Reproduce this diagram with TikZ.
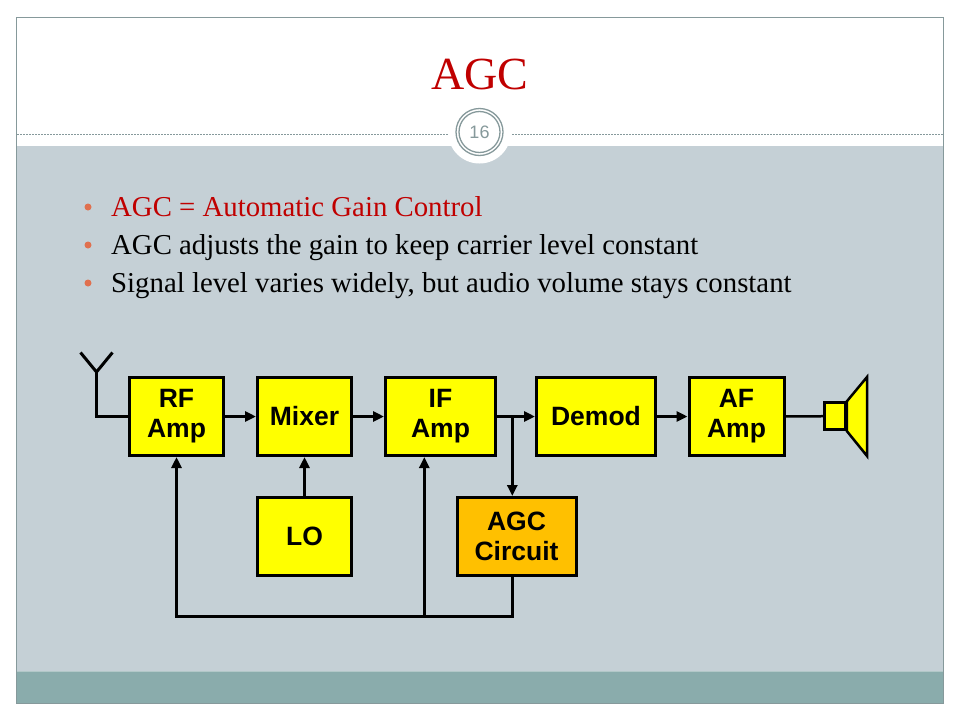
\documentclass[tikz,border=0pt]{standalone}
\usepackage{fontspec}
\setmainfont{Liberation Serif}
\setsansfont{Liberation Sans}
\usetikzlibrary{arrows.meta}

\definecolor{slideGray}{HTML}{C5D0D6}
\definecolor{bandTeal}{HTML}{8AACAC}
\definecolor{bandLine}{HTML}{B2C8C8}
\definecolor{frameGray}{HTML}{86999B}
\definecolor{titleRed}{HTML}{C00000}
\definecolor{dotRed}{HTML}{E0704F}
\definecolor{boxYellow}{HTML}{FFFF00}
\definecolor{boxOrange}{HTML}{FFC000}

\begin{document}
\begin{tikzpicture}
[x=1pt,y=-1pt,
  lineDecorate/.style={-,line width=3pt},%
  arrowDecorate/.style={-{Triangle[length=11pt,width=10pt]},line width=3pt},%
  boxDecorate/.style={shape=rectangle,draw,line width=3pt,fill=boxYellow,
    minimum height=78pt,align=center,inner sep=0pt,
    font=\sffamily\bfseries\fontsize{26.5}{30}\selectfont},%
  bulletDecorate/.style={anchor=base west,inner sep=0pt,
    font=\fontsize{28.8}{30}\selectfont}]
\useasboundingbox (0,0) rectangle (960,720);
%% slide background
\fill[white] (0,0) rectangle (960,720);
\fill[slideGray] (17,146) rectangle (943,671);
\fill[bandTeal] (17,671) rectangle (943,703);
\draw[bandLine,line width=1pt] (17,671.5) -- (943,671.5);
\draw[frameGray,line width=0.8pt,dash pattern=on 2pt off 1pt] (17,134.5) -- (943,134.5);
\fill[white] (479.5,132) circle (31.5);
\draw[frameGray,line width=1.3pt] (479.5,132) circle (23.5);
\draw[frameGray,line width=1.3pt] (479.5,132) circle (20.5);
\node (page) at (479.5,132) [font=\sffamily\fontsize{18}{18}\selectfont,text=frameGray] {16};
\draw[frameGray,line width=1pt] (16.5,17) rectangle (943.5,703);
%% title and bullets
\node (title) at (480,89) [anchor=base,font=\fontsize{46}{46}\selectfont,text=titleRed] {AGC};
\foreach \linename/\y/\txt in {b1/216/{\color{titleRed}AGC = Automatic Gain Control},
  b2/254/{AGC adjusts the gain to keep carrier level constant},
  b3/292/{Signal level varies widely, but audio volume stays constant}}
{
  \fill[dotRed] (88,\y-9) circle (3.5);
  \node (\linename) at (111,\y) [bulletDecorate] {\txt};
}
%% blocks
\foreach \nodename/\x/\y/\w/\txt in {rf/176.5/416.5/94/{RF\\Amp}, mixer/304.5/416.5/94/{Mixer},
  if/440.5/416.5/110/{IF\\Amp}, demod/596/416.5/119/{Demod}, af/736.5/416.5/95/{AF\\Amp},
  lo/304.5/536.5/94/{LO}}
{
  \node (\nodename) at (\x,\y) [boxDecorate,minimum width=\w pt] {\txt};
}
\node (agc) at (516.5,536.5) [boxDecorate,minimum width=119pt,fill=boxOrange] {AGC\\Circuit};
%% antenna and speaker
\coordinate (antL) at (80.5,352.5);
\coordinate (antR) at (112.5,352.5);
\coordinate (antJ) at (96.5,372);
\draw[lineDecorate] (antL) -- (antJ) -- (antR);
\draw[lineDecorate] (antJ) |- (rf.west);
\node (spk) at (835,416.2) [shape=rectangle,draw,line width=2.5pt,fill=boxYellow,
  minimum width=21pt,minimum height=27pt,inner sep=0pt] {};
\filldraw[fill=boxYellow,line width=2.5pt,line join=miter]
  (spk.north east) -- (867,377) -- (867,456) -- (spk.south east) -- cycle;
%% signal path
\coordinate (split) at (512.3,416.5);
\coordinate (fbR) at (512.3,616);
\coordinate (fbM) at (424.3,616);
\coordinate (fbL) at (176.5,616);
\draw[arrowDecorate] (rf) -- (mixer);
\draw[arrowDecorate] (mixer) -- (if);
\draw[lineDecorate] (if) -- (split);
\draw[arrowDecorate] (split) -- (demod);
\draw[arrowDecorate] (split) -- (split |- agc.north);
\draw[arrowDecorate] (demod) -- (af);
\draw[arrowDecorate] (lo) -- (mixer);
\draw[line width=2.5pt] (af) -- (spk);
%% feedback
\draw[arrowDecorate] (split |- agc.south) -- (fbR) -- (fbL) -- (rf.south);
\draw[arrowDecorate] (fbM) -- (fbM |- if.south);
\end{tikzpicture}
\end{document}
